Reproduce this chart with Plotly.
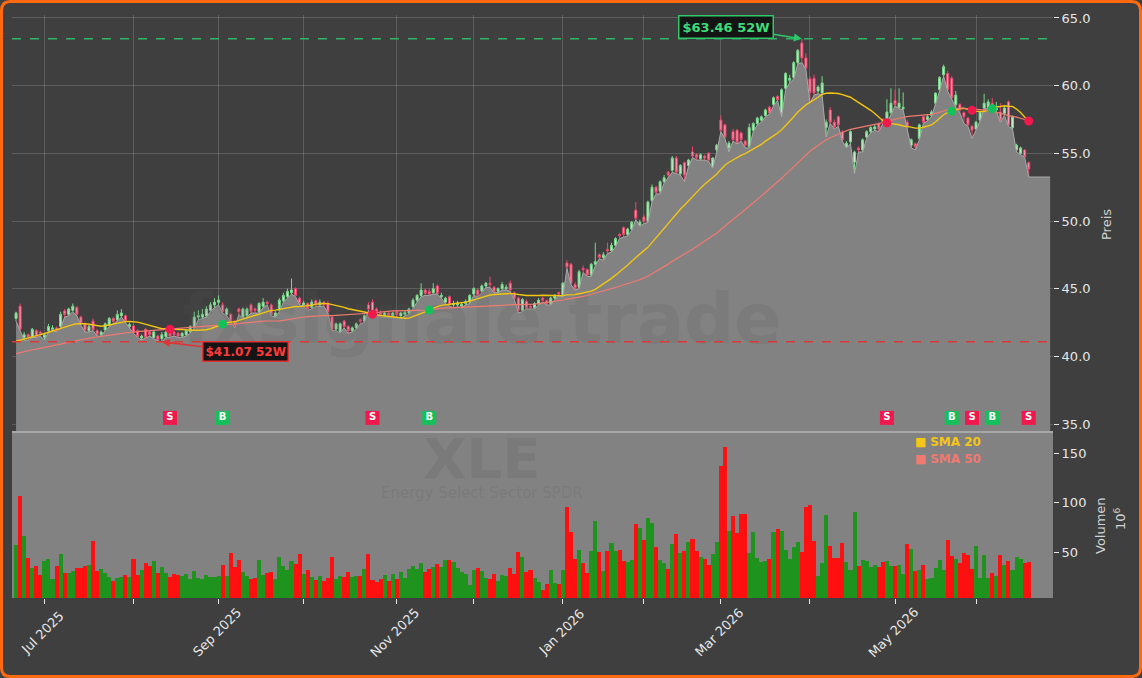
import plotly.graph_objects as go
from plotly.subplots import make_subplots
import pandas as pd

# ---------------- data ----------------
opens = [
    42.8, 43.7, 41.4, 41.6, 41.45, 41.9, 41.8, 41.4, 41.9, 42.0,
    42.1, 42.2, 43.35, 43.1, 43.4, 43.6, 42.9, 42.4, 41.9, 42.6,
    41.9, 41.6, 41.95, 42.3, 42.8, 42.7, 43.0, 43.0, 42.2, 42.25,
    41.9, 41.35, 42.0, 41.8, 41.4, 41.5, 41.3, 41.45, 41.8, 41.8,
    41.7, 41.5, 41.6, 41.8, 42.2, 42.9, 42.9, 43.0, 43.4, 43.8,
    44.0, 43.8, 43.1, 43.1, 42.6, 43.5, 42.9, 43.0, 43.8, 43.5,
    43.3, 43.7, 44.0, 43.8, 43.0, 43.4, 44.1, 44.4, 44.7, 45.0,
    44.3, 43.8, 43.9, 43.6, 44.1, 43.8, 44.0, 43.9, 42.9, 42.0,
    41.8, 42.6, 42.2, 41.9, 42.1, 42.7, 42.6, 43.8, 44.0, 43.5,
    43.2, 43.0, 43.2, 43.0, 43.3, 43.0, 43.1, 43.2, 43.65, 44.15,
    44.5, 44.9, 44.8, 44.7, 45.2, 44.4, 44.0, 44.4, 43.8, 43.8,
    43.7, 43.9, 44.0, 44.6, 44.9, 44.8, 45.2, 45.4, 45.1, 44.8,
    45.0, 45.0, 45.4, 44.7, 44.3, 43.4, 44.05, 43.7, 43.6, 43.9,
    44.3, 44.1, 43.9, 44.3, 44.7, 44.5, 46.9, 46.8, 45.3, 45.1,
    46.5, 46.4, 46.0, 46.8, 47.5, 47.3, 47.9, 47.8, 48.2, 49.0,
    49.5, 49.0, 49.4, 50.8, 49.7, 50.3, 50.0, 51.5, 52.5, 52.2,
    52.9, 53.6, 53.75, 54.65, 53.5, 54.3, 54.1, 55.1, 54.9, 54.6,
    54.8, 55.0, 54.0, 55.25, 57.45, 57.1, 55.4, 56.6, 56.7, 56.5,
    55.9, 55.5, 56.7, 57.2, 57.45, 57.8, 58.4, 58.6, 59.2, 58.0,
    59.8, 60.4, 60.6, 61.7, 63.15, 62.05, 60.5, 60.55, 59.6, 59.45,
    56.9, 58.2, 57.3, 57.7, 56.6, 55.5, 55.85, 54.35, 55.4, 55.25,
    56.2, 56.6, 56.8, 57.2, 57.5, 57.3, 58.0, 58.9, 58.4, 58.3,
    57.3, 55.6, 55.7, 56.1, 57.7, 57.5, 57.8, 58.7, 59.7, 60.8,
    60.9, 60.55, 58.6, 58.6, 58.0, 57.6, 57.0, 56.8, 57.45, 58.35,
    58.4, 58.7, 58.2, 58.05, 57.95, 58.8, 56.9, 55.25, 55.0, 55.25,
    54.3,
]
highs = [
    43.3, 43.9, 41.8, 41.7, 42.1, 42.0, 41.9, 41.7, 42.4, 42.3,
    42.2, 43.3, 43.5, 43.6, 43.9, 43.7, 43.0, 42.5, 42.4, 42.8,
    42.0, 41.9, 42.5, 42.9, 42.9, 43.4, 43.5, 43.1, 42.5, 42.4,
    42.0, 41.6, 42.1, 41.9, 41.9, 41.6, 41.8, 41.9, 41.9, 41.9,
    41.8, 41.8, 42.0, 42.3, 43.3, 43.4, 43.5, 43.7, 44.0, 44.3,
    44.5, 44.0, 43.6, 43.2, 42.7, 43.6, 43.6, 43.6, 43.9, 43.6,
    44.0, 44.3, 44.1, 43.9, 43.4, 44.3, 44.7, 45.0, 45.75, 45.1,
    44.4, 44.1, 44.0, 44.2, 44.2, 44.2, 44.1, 44.1, 43.0, 42.5,
    42.5, 42.7, 42.3, 42.2, 42.5, 42.8, 43.1, 44.0, 44.2, 43.6,
    43.4, 43.3, 43.3, 43.3, 43.4, 43.3, 43.4, 43.6, 44.3, 44.6,
    45.4, 45.0, 45.0, 45.4, 45.3, 44.7, 44.4, 44.5, 44.1, 44.1,
    44.0, 44.2, 44.6, 45.1, 45.0, 45.3, 45.5, 45.9, 45.2, 45.1,
    45.5, 45.3, 45.6, 44.8, 44.4, 44.3, 44.2, 43.8, 44.0, 44.3,
    44.4, 44.2, 44.4, 44.6, 44.8, 45.5, 47.1, 46.9, 45.5, 46.4,
    46.7, 46.5, 46.9, 48.4, 47.6, 47.7, 48.4, 48.4, 48.8, 49.1,
    49.6, 49.5, 50.0, 51.4, 50.1, 50.5, 51.5, 52.7, 52.6, 53.0,
    53.4, 53.7, 54.8, 54.8, 54.2, 54.4, 54.6, 55.5, 55.0, 55.0,
    54.9, 55.1, 54.7, 55.7, 57.8, 57.2, 55.9, 56.8, 56.8, 56.6,
    56.0, 57.2, 57.3, 57.7, 57.8, 58.3, 58.5, 59.2, 59.3, 59.8,
    61.0, 60.8, 61.8, 62.7, 63.46, 62.4, 60.7, 60.8, 60.0, 60.7,
    57.5, 58.4, 57.5, 57.8, 56.7, 55.9, 56.7, 55.2, 55.5, 56.1,
    56.7, 57.0, 57.1, 57.3, 57.6, 59.0, 59.8, 59.7, 59.8, 59.5,
    57.5, 56.1, 55.8, 57.2, 57.8, 57.9, 58.2, 59.5, 60.7, 61.55,
    61.1, 60.7, 59.6, 58.7, 58.1, 57.7, 57.1, 57.4, 58.1, 59.4,
    59.0, 59.1, 58.8, 58.7, 58.5, 58.9, 57.8, 55.7, 55.5, 55.3,
    54.4,
]
lows = [
    42.6, 41.9, 41.2, 41.2, 41.4, 41.4, 41.5, 41.2, 41.8, 41.9,
    41.8, 42.1, 42.9, 43.0, 43.3, 43.0, 42.3, 41.8, 41.8, 41.9,
    41.5, 41.5, 41.9, 42.2, 42.4, 42.6, 42.9, 42.5, 42.1, 41.7,
    41.4, 41.2, 41.35, 41.5, 41.3, 41.15, 41.07, 41.4, 41.4, 41.5,
    41.4, 41.4, 41.5, 41.7, 42.1, 42.7, 42.8, 42.9, 43.3, 43.6,
    43.8, 43.2, 43.0, 42.5, 42.1, 43.1, 42.8, 42.9, 43.2, 43.2,
    43.2, 43.6, 43.8, 43.0, 42.9, 43.3, 44.0, 44.3, 44.6, 44.4,
    43.8, 43.7, 43.4, 43.5, 43.7, 43.7, 43.7, 43.2, 41.9, 41.9,
    41.7, 42.1, 41.7, 41.8, 42.0, 42.4, 42.5, 43.4, 43.0, 43.2,
    42.9, 42.9, 42.9, 42.9, 42.9, 42.8, 43.0, 43.1, 43.6, 44.0,
    44.4, 44.5, 44.5, 44.6, 44.6, 44.3, 43.9, 43.7, 43.6, 43.65,
    43.6, 43.8, 43.9, 44.5, 44.4, 44.7, 45.1, 45.1, 44.7, 44.7,
    44.9, 44.9, 44.8, 44.2, 43.2, 43.3, 43.5, 43.5, 43.5, 43.8,
    44.0, 43.8, 43.8, 44.2, 44.5, 44.4, 46.5, 45.3, 44.9, 45.0,
    46.2, 45.9, 45.9, 46.7, 47.2, 47.1, 47.6, 47.7, 48.1, 48.7,
    48.8, 48.9, 49.3, 50.1, 49.6, 49.8, 49.9, 51.4, 52.0, 52.0,
    52.8, 53.2, 53.6, 53.5, 53.4, 52.9, 54.0, 54.7, 54.5, 54.5,
    54.5, 54.4, 53.9, 55.1, 56.6, 56.1, 55.1, 55.9, 55.7, 55.9,
    55.4, 55.4, 56.6, 57.1, 57.3, 57.7, 57.9, 58.5, 58.9, 57.7,
    59.7, 60.2, 60.5, 61.6, 61.7, 61.2, 58.7, 59.3, 59.4, 59.3,
    56.2, 57.2, 56.8, 57.0, 55.9, 55.4, 55.7, 53.5, 55.1, 55.1,
    56.1, 56.5, 56.7, 56.6, 57.2, 57.2, 57.9, 58.5, 58.3, 58.2,
    56.8, 55.4, 55.25, 56.0, 57.2, 57.4, 57.7, 58.6, 59.6, 60.7,
    59.6, 59.0, 58.4, 58.0, 57.2, 57.0, 56.1, 56.7, 57.4, 58.3,
    58.3, 58.1, 58.1, 57.3, 57.8, 57.0, 56.8, 55.1, 54.9, 54.7,
    53.25,
]
closes = [
    43.2, 42.0, 41.6, 41.4, 42.0, 41.5, 41.7, 41.6, 42.2, 42.1,
    41.95, 43.1, 43.1, 43.5, 43.7, 43.1, 42.4, 41.9, 42.2, 41.95,
    41.6, 41.8, 42.4, 42.8, 42.6, 43.1, 43.2, 42.6, 42.35, 41.75,
    41.45, 41.5, 41.4, 41.6, 41.8, 41.2, 41.6, 41.8, 41.5, 41.6,
    41.5, 41.7, 41.9, 42.2, 42.9, 43.0, 43.1, 43.5, 43.8, 44.0,
    44.15, 43.3, 43.5, 42.6, 42.2, 43.3, 43.5, 43.5, 43.3, 43.4,
    43.9, 44.0, 43.9, 43.1, 43.2, 44.15, 44.5, 44.8, 44.9, 44.5,
    43.9, 43.95, 43.5, 44.0, 43.8, 44.0, 43.8, 43.3, 42.0, 42.4,
    42.4, 42.2, 41.9, 42.1, 42.4, 42.6, 43.0, 43.5, 43.1, 43.35,
    43.0, 43.2, 43.0, 43.2, 43.1, 43.2, 43.25, 43.5, 44.15, 44.5,
    44.9, 44.65, 44.6, 45.0, 44.65, 44.5, 44.3, 43.8, 43.9, 43.95,
    43.85, 44.05, 44.5, 45.0, 44.5, 45.2, 45.4, 45.3, 44.75, 45.0,
    45.3, 45.1, 44.9, 44.3, 43.4, 44.2, 43.55, 43.6, 43.9, 44.15,
    44.15, 43.9, 44.3, 44.5, 44.6, 45.4, 46.6, 45.4, 45.0, 46.25,
    46.4, 46.0, 46.8, 47.0, 47.3, 47.5, 47.8, 48.2, 48.7, 48.9,
    49.0, 49.4, 49.9, 50.2, 49.9, 50.0, 51.4, 52.5, 52.1, 52.9,
    53.2, 53.4, 54.65, 53.6, 54.1, 53.4, 54.5, 54.8, 54.7, 54.9,
    54.65, 54.5, 54.65, 55.6, 56.7, 56.2, 55.75, 56.0, 55.8, 56.0,
    55.6, 56.9, 57.2, 57.6, 57.7, 58.2, 58.0, 59.1, 58.95, 59.7,
    60.9, 60.55, 61.7, 62.6, 62.05, 61.3, 59.5, 59.45, 59.9, 60.2,
    57.3, 57.3, 56.95, 57.1, 56.0, 55.75, 56.6, 55.1, 55.25, 56.0,
    56.6, 56.9, 56.95, 56.8, 57.3, 58.05, 58.7, 58.6, 58.7, 58.4,
    56.95, 56.0, 55.5, 57.1, 57.3, 57.7, 58.05, 59.45, 60.6, 61.4,
    59.7, 59.1, 59.3, 58.2, 57.7, 57.1, 56.7, 57.3, 58.05, 58.7,
    58.8, 58.2, 58.35, 57.45, 58.35, 57.1, 57.7, 55.6, 55.4, 54.75,
    53.85,
]
volume_m = [  # millions of shares
    57, 106.6, 66, 44, 34, 36, 27, 41, 43, 23,
    36, 48, 28.5, 28.5, 31, 34, 34, 36, 37, 61,
    31, 32.5, 28.5, 25, 21, 24, 25, 27, 25, 43,
    27, 32, 39, 36, 41, 28.5, 35, 28.5, 25, 28,
    27, 26, 27.5, 23, 31, 24, 23, 27, 25, 25,
    26, 37, 26, 49, 35, 42, 30, 26, 23, 24,
    42, 27, 29, 30, 23, 45, 36, 32, 41, 38,
    48, 28, 32, 25, 22, 26, 21, 24, 45, 23,
    26, 25, 30, 25, 26, 26, 33, 48, 22, 20,
    23, 27, 21, 28, 23, 30, 24, 33, 36, 33,
    39, 30, 33, 35, 38, 35, 42, 42, 40, 34,
    30, 28, 17, 32, 34, 31, 24, 23, 28, 21,
    27, 26, 34, 28, 50, 45, 30, 32, 24, 20,
    12, 18, 32, 19, 18, 32, 95.5, 70, 43, 52,
    39, 29, 51, 81, 50, 31, 51, 59, 51, 52,
    41, 40, 42, 78, 74, 62, 84, 79, 55, 42,
    39, 33, 58, 68, 49, 51, 60, 63, 51, 45,
    43, 37, 48, 60, 137, 156, 71, 86, 69, 89,
    89, 49, 70, 44, 40, 41, 43, 70, 73, 71,
    52, 43, 55, 60, 50, 95.5, 97.5, 61, 26, 39,
    88, 56, 44, 44, 59, 40, 32, 91, 36, 42,
    41, 35, 37, 35, 40, 41, 36, 36, 37, 28,
    58, 53, 31, 32, 37, 23, 24, 34, 42, 32,
    62, 46, 43, 39, 49, 47, 33, 56, 24, 47,
    24, 29, 26, 47, 37, 41, 32, 45, 43, 39,
    40,
]
# closes before the first visible day (only used so the moving averages start where the picture shows them)
warmup_closes = [
    38.0, 38.4, 37.9, 38.6, 39.0, 38.8, 39.3, 39.6, 39.2, 39.5,
    39.8, 39.6, 40.0, 39.7, 39.4, 39.1, 39.3, 39.0, 39.5, 39.8,
    40.2, 40.5, 40.1, 40.4, 40.8, 40.6, 40.3, 40.5, 40.7, 40.4,
    40.2, 40.0, 39.8, 40.1, 40.4, 40.0, 39.9, 40.3, 40.6, 40.2,
    40.5, 40.9, 41.6, 42.3, 42.0, 41.8, 42.4, 42.9, 43.2,
]
month_tick_idx = [7, 29, 50, 71, 94, 113, 135, 155, 174, 196, 217, 237]
month_tick_text = ["Jul 2025", "", "Sep 2025", "", "Nov 2025", "", "Jan 2026", "",
                   "Mar 2026", "", "May 2026", ""]
signal_idx = [38, 51, 88, 102, 215, 231, 236, 241, 250]
signal_kind = ["S", "B", "S", "B", "S", "B", "S", "B", "S"]
high_52w, high_52w_idx = 63.46, 194
low_52w, low_52w_idx = 41.07, 36
ticker = "XLE"
fund_name = "Energy Select Sector SPDR"
watermark = "fxsignale.trade"

# ---------------- derived ----------------
n = len(closes)
x = list(range(n))
full = pd.Series(warmup_closes + closes)
sma20 = full.rolling(20).mean().iloc[len(warmup_closes):].tolist()
sma50 = full.rolling(50).mean().iloc[len(warmup_closes):].tolist()
vol_colors = ["#1e941e" if c >= o else "#ff1010" for o, c in zip(opens, closes)]
sig_color = {"S": "#f0184c", "B": "#14c05a"}

# ---------------- geometry ----------------
W, H = 1142, 678
ML, MR, MT, MB = 12, 89, 15, 80
PW, PH = W - ML - MR, H - MT - MB
split = 166 / PH  # volume panel share


def paper(px, py):
    return (px - ML) / PW, (H - MB - py) / PH


FONT = "DejaVu Sans"
TXT = "#e6e6e6"

fig = make_subplots(rows=2, cols=1, shared_xaxes=True, vertical_spacing=0,
                    row_heights=[1 - split, split])

# price area (follows the lows, carried to the right edge)
fig.add_trace(go.Scatter(
    x=x + [n - 1 + 5.3], y=lows + [lows[-1]], mode="lines", fill="tozeroy",
    fillcolor="#828282", line=dict(color="#a9a9a9", width=1), hoverinfo="skip"), row=1, col=1)

fig.add_trace(go.Scatter(
    x=[115], y=[42.27], mode="text", text=[watermark],
    textfont=dict(family=FONT, size=70, color="rgba(85,85,85,0.16)", weight="bold"),
    hoverinfo="skip"), row=1, col=1)

fig.add_trace(go.Candlestick(
    x=x, open=opens, high=highs, low=lows, close=closes, whiskerwidth=0,
    increasing=dict(line=dict(color="#79d98a", width=1), fillcolor="#c6eccd"),
    decreasing=dict(line=dict(color="#f0476f", width=1), fillcolor="#ff9fb4"),
    hoverinfo="skip"), row=1, col=1)

fig.add_trace(go.Scatter(x=x, y=sma20, mode="lines", line=dict(color="#f2c511", width=1.4),
                         zorder=2, hoverinfo="skip"), row=1, col=1)
fig.add_trace(go.Scatter(x=x, y=sma50, mode="lines", line=dict(color="#f07a70", width=1.2),
                         zorder=2, hoverinfo="skip"), row=1, col=1)

fig.add_trace(go.Scatter(
    x=signal_idx, y=[sma20[i] for i in signal_idx], mode="markers",
    marker=dict(size=9, color=[sig_color[k] for k in signal_kind], line=dict(width=0)),
    zorder=3, hoverinfo="skip"), row=1, col=1)

fig.add_trace(go.Scatter(
    x=signal_idx, y=[35.45] * len(signal_idx), mode="markers+text", text=signal_kind,
    textposition="middle center",
    textfont=dict(family=FONT, size=10, color="white", weight="bold"),
    marker=dict(symbol="square", size=14, color=[sig_color[k] for k in signal_kind],
                line=dict(width=0)),
    zorder=3, hoverinfo="skip"), row=1, col=1)

# volume
fig.add_trace(go.Bar(x=x, y=volume_m, marker=dict(color=vol_colors, line=dict(width=0)),
                     width=1.0, hoverinfo="skip"), row=2, col=1)
fig.add_trace(go.Scatter(
    x=[115, 115], y=[139.0, 108.5], mode="text", text=[ticker, fund_name],
    textfont=dict(family=FONT, size=[56, 15], color="rgba(90,90,90,0.2)",
                  weight=["bold", "normal"]),
    hoverinfo="skip"), row=2, col=1)

# ---------------- axes ----------------
grid = "rgba(255,255,255,0.16)"
frame = "#959595"
fig.update_xaxes(range=[-1, 256], tickvals=month_tick_idx,
                 showline=True, mirror=True, linecolor=frame, linewidth=1, zeroline=False,
                 automargin=False, showticklabels=False)
fig.update_xaxes(row=1, col=1, showgrid=True, gridcolor=grid, ticks="",
                 rangeslider=dict(visible=False))
fig.update_xaxes(row=2, col=1, showgrid=False, ticks="outside", ticklen=5, tickcolor=TXT)
fig.update_yaxes(row=1, col=1, range=[34.41, 65.22], side="right",
                 tickvals=[35, 40, 45, 50, 55, 60, 65], tickformat=".1f",
                 showgrid=True, gridcolor=grid, ticks="outside", ticklen=5, tickcolor=TXT,
                 showline=True, mirror=True, linecolor=frame, zeroline=False,
                 tickfont=dict(size=13, color=TXT), automargin=False)
fig.update_yaxes(row=2, col=1, range=[3.5, 171.5], side="right", tickvals=[50, 100, 150],
                 showgrid=False, ticks="outside", ticklen=5, tickcolor=TXT,
                 showline=True, mirror=True, linecolor=frame, zeroline=False,
                 tickfont=dict(size=13, color=TXT), automargin=False)

# ---------------- shapes ----------------
shapes = [
    dict(type="rect", xref="x2 domain", yref="y2 domain", x0=0, x1=1, y0=0, y1=1,
         fillcolor="#828282", line=dict(width=0), layer="below"),
    dict(type="line", xref="x domain", yref="y", x0=0, x1=1, y0=high_52w, y1=high_52w,
         line=dict(color="#2fb565", width=1.5, dash="dash")),
    dict(type="line", xref="x domain", yref="y", x0=0, x1=1, y0=low_52w, y1=low_52w,
         line=dict(color="#dc3838", width=1.5, dash="dash")),
    dict(type="line", xref="paper", yref="paper", x0=0, x1=1, y0=split, y1=split,
         line=dict(color="#a8a8a8", width=2)),
]
# rounded orange frame around the whole figure
l, t, r, b, rad = 1.5, 1.5, W - 1.5, H - 1.5, 9
pts = [("M", [(l + rad, t)]), ("L", [(r - rad, t)]), ("Q", [(r, t), (r, t + rad)]),
       ("L", [(r, b - rad)]), ("Q", [(r, b), (r - rad, b)]), ("L", [(l + rad, b)]),
       ("Q", [(l, b), (l, b - rad)]), ("L", [(l, t + rad)]), ("Q", [(l, t), (l + rad, t)])]
path = ""
for cmd, ps in pts:
    path += cmd + " " + " ".join("%.5f,%.5f" % paper(px, py) for px, py in ps) + " "
path += "Z"
shapes.append(dict(type="path", xref="paper", yref="paper", path=path,
                   line=dict(color="#ff6a10", width=3)))

# ---------------- annotations ----------------
ann = [
    dict(x=high_52w_idx, y=high_52w, xref="x", yref="y", text="<b>$%.2f 52W</b>" % high_52w,
         showarrow=True, ax=-76, ay=-12, arrowhead=2, arrowsize=1, arrowwidth=1.6,
         arrowcolor="#2ec76a", font=dict(family=FONT, size=13, color="#3ddc7a"),
         bgcolor="#141414", bordercolor="#2ec76a", borderwidth=1.5, borderpad=3),
    dict(x=low_52w_idx, y=low_52w, xref="x", yref="y", text="<b>$%.2f 52W</b>" % low_52w,
         showarrow=True, ax=84, ay=10, arrowhead=2, arrowsize=1, arrowwidth=1.6,
         arrowcolor="#e03434", font=dict(family=FONT, size=12, color="#ff3a3a"),
         bgcolor="#141414", bordercolor="#e03434", borderwidth=1.5, borderpad=2),
]
# month labels, rotated and centred on their ticks
_, y_lab = paper(0, 632)
for ti, tt in zip(month_tick_idx, month_tick_text):
    if tt:
        ann.append(dict(x=ti - 0.5, y=y_lab, xref="x2", yref="paper", text=tt,
                        showarrow=False, textangle=-45, xanchor="center", yanchor="middle",
                        font=dict(family=FONT, size=13, color=TXT)))
for txt, px, py in [("Preis", 1107, 225), ("Volumen", 1100, 526), ("10<sup>6</sup>", 1120, 519)]:
    xp, yp = paper(px, py)
    ann.append(dict(x=xp, y=yp, xref="paper", yref="paper", text=txt, showarrow=False,
                    textangle=-90, font=dict(family=FONT, size=13, color="#d2d2d2"),
                    xanchor="center", yanchor="middle"))
for txt, col, py in [("SMA 20", "#f5c518", 442), ("SMA 50", "#f07a72", 459)]:
    xp, yp = paper(913, py)
    ann.append(dict(x=xp, y=yp, xref="paper", yref="paper",
                    text="■ <b>%s</b>" % txt, showarrow=False, xanchor="left", yanchor="middle",
                    font=dict(family=FONT, size=12, color=col)))

fig.update_layout(
    width=W, height=H, margin=dict(l=ML, r=MR, t=MT, b=MB, autoexpand=False),
    paper_bgcolor="#3f3f3f", plot_bgcolor="#3f3f3f",
    font=dict(family=FONT, size=13, color=TXT),
    showlegend=False, shapes=shapes, annotations=ann, bargap=0,
    hovermode=False,
)
fig.update_yaxes(row=1, col=1, domain=[split, 1])
fig.update_yaxes(row=2, col=1, domain=[0, split])

fig.write_html("out.html")
